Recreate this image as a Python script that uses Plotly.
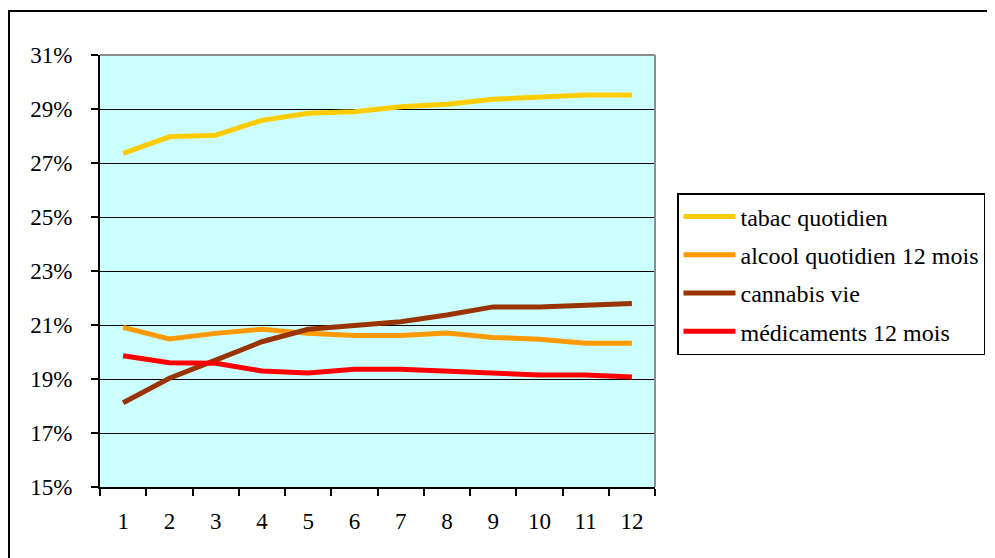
import plotly.graph_objects as go

categories = ["1", "2", "3", "4", "5", "6", "7", "8", "9", "10", "11", "12"]
tabac = [27.36, 27.97, 28.03, 28.58, 28.84, 28.90, 29.08, 29.18, 29.36, 29.43, 29.52, 29.52]
alcool = [20.91, 20.48, 20.69, 20.84, 20.69, 20.61, 20.61, 20.70, 20.54, 20.47, 20.32, 20.32]
cannabis = [18.12, 19.03, 19.70, 20.38, 20.84, 20.99, 21.12, 21.37, 21.67, 21.67, 21.74, 21.80]
medicaments = [19.86, 19.60, 19.58, 19.30, 19.22, 19.36, 19.36, 19.28, 19.22, 19.15, 19.15, 19.07]
series_names = ["tabac quotidien", "alcool quotidien 12 mois", "cannabis vie", "médicaments 12 mois"]
series_colors = ["#FFCC00", "#FF9900", "#993300", "#FF0000"]
y_ticks = [15, 17, 19, 21, 23, 25, 27, 29, 31]

# page has an 8px body margin: the figure starts at (8, 8) in the window
OFF = 8
W, H = 995 - OFF, 558 - OFF
L, T = 100 - OFF, 55 - OFF
pw, ph = 555, 432
R = W - L - pw
B = H - T - ph

def px(x):
    return (x - OFF - L) / pw

def py(y):
    return (OFF + T + ph - y) / ph

fig = go.Figure()
for name, vals, col in zip(series_names, [tabac, alcool, cannabis, medicaments], series_colors):
    fig.add_trace(go.Scatter(x=categories, y=vals, mode="lines", name=name,
                             legendgroup=name,
                             line=dict(color=col, width=5)))

font = dict(family="'Times New Roman', 'Liberation Serif', 'DejaVu Serif', serif",
            size=23, color="black")
legend_font = dict(font, size=24)

fig.update_layout(
    width=W, height=H,
    margin=dict(l=L, r=R, t=T, b=B, autoexpand=False),
    paper_bgcolor="white",
    plot_bgcolor="#CCFFFF",
    font=font,
    showlegend=True,
    legend=dict(x=px(677), y=py(193), xanchor="left", yanchor="top",
                bordercolor="black", borderwidth=1.5, bgcolor="white",
                font=legend_font, tracegroupgap=4, itemwidth=52),
    xaxis=dict(type="category", tickson="boundaries", range=[-0.5, 11.5],
               showline=True, linecolor="black", linewidth=2,
               ticks="outside", ticklen=7, tickwidth=1.5, tickcolor="black",
               showgrid=False, zeroline=False, ticklabelstandoff=12,
               tickfont=font, fixedrange=True),
    yaxis=dict(range=[15, 31], tickvals=y_ticks,
               ticktext=[f"{v}%" for v in y_ticks],
               showline=True, linecolor="black", linewidth=2,
               ticks="outside", ticklen=7, tickwidth=1.5, tickcolor="black",
               showgrid=True, gridcolor="black", gridwidth=1,
               zeroline=False, ticklabelstandoff=14, tickfont=font,
               fixedrange=True),
    shapes=[
        dict(type="line", xref="paper", yref="paper", x0=0, x1=1, y0=1, y1=1,
             line=dict(color="#8C8C8C", width=2)),
        dict(type="line", xref="paper", yref="paper", x0=1, x1=1, y0=0, y1=1,
             line=dict(color="#8C8C8C", width=2)),
        dict(type="rect", xref="paper", yref="paper",
             x0=px(9), x1=px(1010), y0=py(11), y1=py(570),
             line=dict(color="black", width=2), fillcolor="rgba(0,0,0,0)"),
    ],
)

fig.write_html("out.html")
